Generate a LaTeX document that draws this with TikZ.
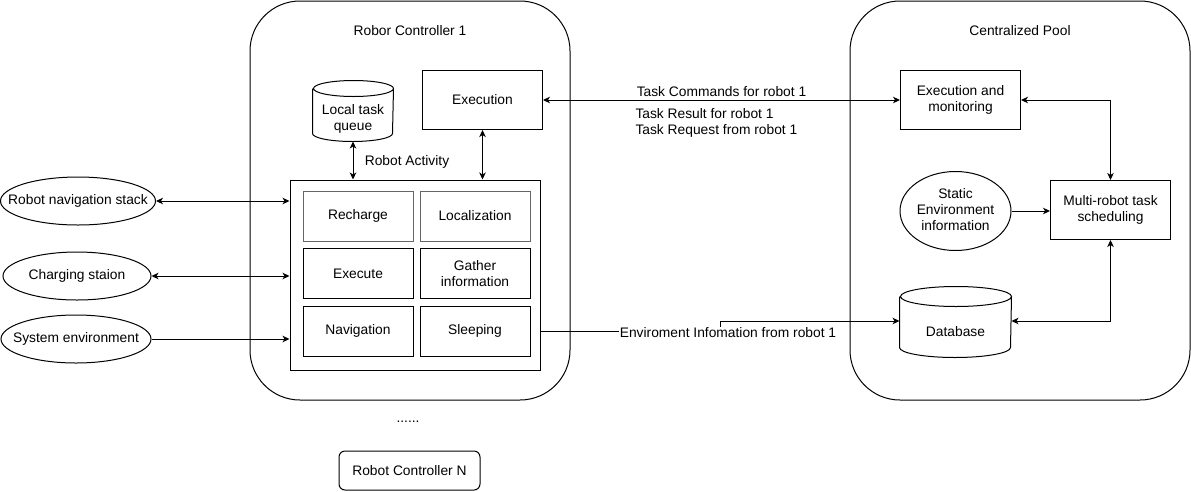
\documentclass[tikz,border=0pt]{standalone}
\usepackage{fontspec}
\setmainfont{Liberation Sans}
\usetikzlibrary{arrows.meta,shapes,positioning,matrix,calc}

\begin{document}
\begin{tikzpicture}[x=1pt,y=-1pt,ampersand replacement=\&,
font=\fontsize{13.8}{16}\selectfont, line width=1pt,
>={Stealth[length=7pt,width=6.5pt,inset=2pt]},
box/.style={draw,minimum width=120pt,minimum height=59pt,align=center,inner sep=2pt},
ell/.style={draw,ellipse,minimum height=48pt,inner sep=0pt},
pool/.style={draw,rounded corners=50pt,minimum height=399pt}
]
\useasboundingbox (0,0) rectangle (1191,491);

% containers
\node[pool,minimum width=320pt] (ctrl) at (410,200.5) {};
\node[pool,minimum width=340pt] (cpool) at (1020,200.5) {};
\node (ctrltitle) at (410,31) {Robor Controller 1};
\node (pooltitle) at (1020,31) {Centralized Pool};

% robot controller
\node[box] (exec) at (482.5,100) {Execution};
\node[minimum width=80pt,minimum height=44pt,inner sep=0pt,align=center] (queue) at (353,119) {Local task\\queue};
\draw ([yshift=8pt]queue.north west) -- ([yshift=8pt]queue.south west)
  arc[start angle=180,end angle=360,x radius=40pt,y radius=8pt]
  -- ([yshift=8pt]queue.north east)
  arc[start angle=0,end angle=180,x radius=40pt,y radius=8pt]
  arc[start angle=180,end angle=360,x radius=40pt,y radius=8pt];
\node[draw,minimum width=250pt,minimum height=190pt] (act) at (415,275) {};
\matrix (cells) [matrix of nodes, row sep=6.5pt, column sep=6pt,
nodes={draw,anchor=center,minimum width=110pt,minimum height=50pt,text width=100pt,align=center,inner sep=0pt}
] at (416.5,273.5) {
	|[draw=black!60]| Recharge \& |[draw=black!60]| Localization\\
	Execute \& |[text width=75pt]| Gather information\\
	Navigation \& Sleeping\\
};
\node (actlabel) at (407,162) {Robot Activity};
\draw[<->] (queue.south) -- (queue.south |- act.north);
\draw[<->] (exec.south) -- (exec.south |- act.north);

% outside inputs
\node[ell,minimum width=155pt] (nav) at (78,201) {\makebox[0pt]{Robot navigation stack}};
\node[ell,minimum width=148pt] (charge) at (77,276) {\makebox[0pt]{Charging staion}};
\node[ell,minimum width=150pt] (sysenv) at (76,339) {\makebox[0pt]{System environment}};
\draw[<->] (nav.east) -- (nav.east -| act.west);
\draw[<->] (charge.east) -- (charge.east -| act.west);
\draw[->] (sysenv.east) -- (sysenv.east -| act.west);

% centralized pool
\node[box] (emon) at (960.5,100) {Execution and\\monitoring};
\node[box] (multi) at (1110.5,210) {Multi-robot task\\scheduling};
\node[ell,minimum width=111pt,minimum height=79pt] (senv) at (955.5,211)
  {\makebox[0pt]{\begin{tabular}{@{}c@{}}Static\\Environment\\information\end{tabular}}};
\node[minimum width=111pt,minimum height=50pt,inner sep=0pt] (db) at (955.5,332) {Database};
\draw ([yshift=10pt]db.north west) -- ([yshift=10pt]db.south west)
  arc[start angle=180,end angle=360,x radius=55.5pt,y radius=10pt]
  -- ([yshift=10pt]db.north east)
  arc[start angle=0,end angle=180,x radius=55.5pt,y radius=10pt]
  arc[start angle=180,end angle=360,x radius=55.5pt,y radius=10pt];
\draw[<->] (emon.east) -| (multi.north);
\draw[->] (senv.east) -- (senv.east -| multi.west);
\draw[<->] ([yshift=11pt]db.east) -| (multi.south);

% links between the two
\draw[<->] (exec.east) -- node[above] {Task Commands for robot 1} (emon.west);
\node[anchor=west,align=left,inner sep=0pt] (taskres) at (635,123) {Task Result for robot 1\\Task Request from robot 1};
\draw[->] (act.east |- cells-3-2) -- ++(180,0) |- ([yshift=11pt]db.west);
\node[fill=white,inner sep=1pt] (envlabel) at (728,333) {Enviroment Infomation from robot 1};

% other controllers
\node (dots) at (408,422) {......};
\node[draw,rounded corners=6pt,minimum width=141pt,minimum height=39pt] (ctrlN) at (409.5,470.5) {Robot Controller N};
\end{tikzpicture}
\end{document}
